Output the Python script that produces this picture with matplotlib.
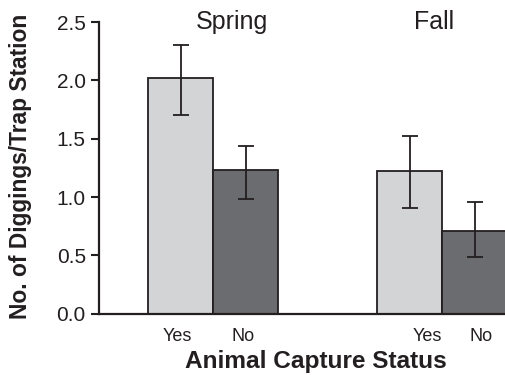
import matplotlib
matplotlib.use("Agg")
import matplotlib.pyplot as plt

plt.rcParams['font.family'] = ['Liberation Sans', 'DejaVu Sans']

seasons = ["Spring", "Fall"]
status = ["Yes", "No", "Yes", "No"]
means = [2.02, 1.23, 1.22, 0.71]
err_low = [0.32, 0.25, 0.31, 0.22]
err_high = [0.28, 0.21, 0.30, 0.25]
colors = ["#d3d4d6", "#6b6c6f", "#d3d4d6", "#6b6c6f"]

bar_x = [1.254, 2.254, 4.777, 5.777]
label_x = [1.21, 2.22, 5.05, 5.88]
season_x = [2.04, 5.15]

TXT = "#231f20"

fig = plt.figure(figsize=(5.06, 3.75), dpi=100)
ax = fig.add_axes([0.1957, 0.1635, 0.8043, 0.7778])

ax.bar(bar_x, means, width=1.0, color=colors, edgecolor=TXT, linewidth=1.3,
       yerr=[err_low, err_high], error_kw=dict(ecolor=TXT, elinewidth=1.3, capsize=6, capthick=1.3),
       zorder=2)

ax.set_xlim(0, 6.26)
ax.set_ylim(0, 2.5)
ax.set_yticks([0, 0.5, 1.0, 1.5, 2.0, 2.5])
ax.set_yticklabels(["0.0", "0.5", "1.0", "1.5", "2.0", "2.5"])
ax.set_xticks(label_x)
ax.set_xticklabels(status)
ax.tick_params(axis='x', length=0, labelsize=13, pad=10, colors=TXT)
ax.tick_params(axis='y', direction='out', length=5.5, width=1.5, labelsize=15, pad=4, colors=TXT)

for s in ["top", "right"]:
    ax.spines[s].set_visible(False)
for s in ["left", "bottom"]:
    ax.spines[s].set_linewidth(1.6)
    ax.spines[s].set_color(TXT)

for name, sx in zip(seasons, season_x):
    ax.text(sx, 2.442, name, ha="center", va="baseline", fontsize=18, color=TXT)

fig.text(21 / 506, 1 - 166.5 / 375, "No. of Diggings/Trap Station", rotation=90,
         ha="center", va="center", fontsize=16.4, fontweight="bold", color=TXT)
fig.text(316 / 506, 1 - 368 / 375, "Animal Capture Status", ha="center", va="baseline",
         fontsize=17.6, fontweight="bold", color=TXT)

fig.savefig("out.png", dpi=100)
